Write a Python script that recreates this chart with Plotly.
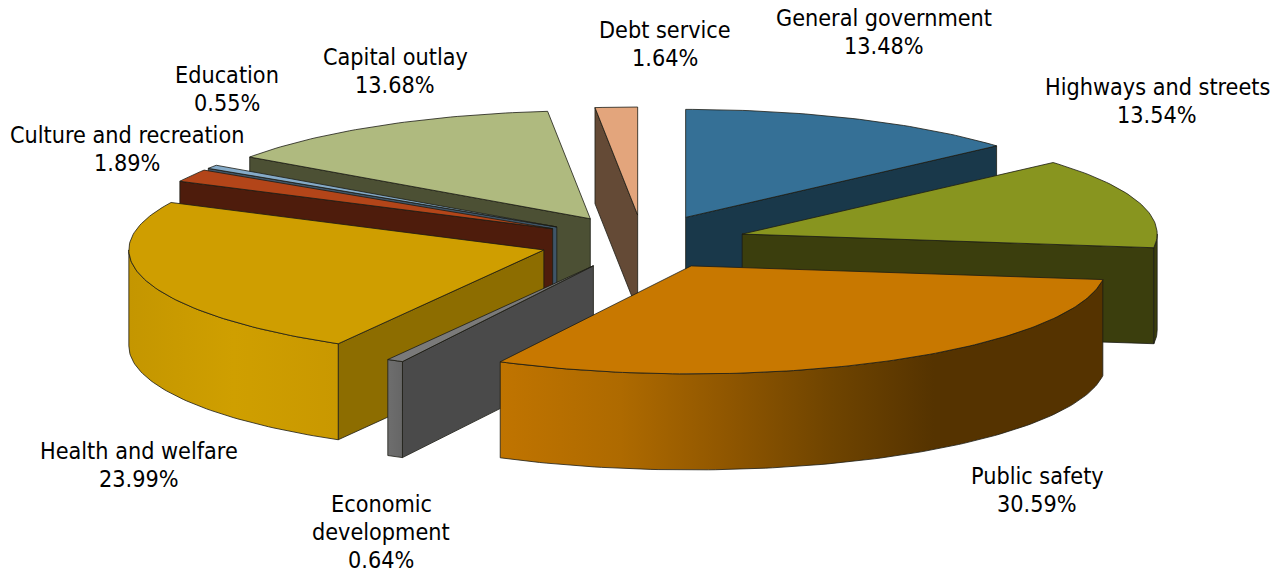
import math
import plotly.graph_objects as go

# Expenditure shares, clockwise from twelve o'clock
categories = ["General government", "Highways and streets", "Public safety",
              "Economic development", "Health and welfare", "Culture and recreation",
              "Education", "Capital outlay", "Debt service"]
shares = [13.48, 13.54, 30.59, 0.64, 23.99, 1.89, 0.55, 13.68, 1.64]

# Per-slice styling
top_colors = ["#357096", "#88951f", "#c87800", "#7a7a7a", "#cf9e00",
              "#b34519", "#85abc9", "#afba7f", "#e3a57c"]
side_colors = ["#19384a", "#3b3e0d", "#553300", "#4a4a4a", "#8d6d00",
               "#4e1c0c", "#3f5568", "#4c5034", "#644a36"]
outer_scales = {
    2: [[0, "#c07400"], [0.2, "#ae6a00"], [0.38, "#8f5600"], [0.55, "#6f4400"],
        [0.72, "#553300"], [1, "#553300"]],
    3: [[0, "#6e6e6e"], [1, "#666666"]],
    4: [[0, "#c49600"], [0.5, "#cf9f00"], [1, "#c99800"]],
}
label_centers = [(884, 31), (1157, 100), (1037, 489), (381, 531), (139, 464),
                 (127, 148), (227, 88), (395, 70), (665, 43)]

# Projection of the tilted, exploded disc
CX, CY = 643, 242
RX, RY = 415, 108
DEPTH = 96
EXPLODE = 0.25
EDGE = "#1c1c14"
LINE_STEP = 28

# Back-to-front painting order
paint_order = [0, 8, 7, 6, 5, 4, 3, 1, 2]


def project(theta, apex):
    r = math.radians(theta)
    return apex[0] + RX * math.sin(r), apex[1] - RY * math.cos(r)


def arc(a, b, apex):
    n = max(2, int(abs(b - a)) + 2)
    return [project(a + (b - a) * i / (n - 1), apex) for i in range(n)]


def polygon(points, color=None, scale=None):
    xs = [p[0] for p in points] + [points[0][0]]
    ys = [p[1] for p in points] + [points[0][1]]
    trace = dict(x=xs, y=ys, mode="lines", fill="toself",
                 line=dict(color=EDGE, width=0.8),
                 hoverinfo="skip", showlegend=False)
    if scale:
        trace["fillgradient"] = dict(type="horizontal", colorscale=scale)
    else:
        trace["fillcolor"] = color
    return go.Scatter(**trace)


def drop(points):
    return [(x, y + DEPTH) for x, y in points]


total = sum(shares)
bounds = []
running = 0.0
for s in shares:
    bounds.append((running, running + s / total * 360))
    running += s / total * 360

fig = go.Figure()
for i in paint_order:
    start, end = bounds[i]
    mid = math.radians((start + end) / 2)
    apex = (CX + EXPLODE * RX * math.sin(mid), CY - EXPLODE * RY * math.cos(mid))
    # Radial walls facing the viewer
    if math.sin(math.radians(start)) < 0:
        p = project(start, apex)
        fig.add_trace(polygon([apex, p, (p[0], p[1] + DEPTH), (apex[0], apex[1] + DEPTH)], side_colors[i]))
    if math.sin(math.radians(end)) > 0:
        p = project(end, apex)
        fig.add_trace(polygon([apex, p, (p[0], p[1] + DEPTH), (apex[0], apex[1] + DEPTH)], side_colors[i]))
    # Rim, front half of the disc only
    lo, hi = max(start, 90), min(end, 270)
    if hi > lo:
        rim = arc(lo, hi, apex)
        fig.add_trace(polygon(rim + drop(rim)[::-1], side_colors[i], outer_scales.get(i)))
    # Top surface
    fig.add_trace(polygon([apex] + arc(start, end, apex), top_colors[i]))

# One annotation per text line keeps the leading independent of the font size
for name, share, (lx, ly) in zip(categories, shares, label_centers):
    lines = name.replace("Economic ", "Economic\n").split("\n") + [f"{share:.2f}%"]
    for k, line in enumerate(lines):
        fig.add_annotation(x=lx, y=ly + (k - (len(lines) - 1) / 2) * LINE_STEP, text=line,
                           showarrow=False, xanchor="center", yanchor="middle",
                           font=dict(family="DejaVu Sans Condensed, DejaVu Sans", size=23.2, color="#000000"))

fig.update_layout(width=1281, height=575, autosize=False, margin=dict(l=0, r=0, t=0, b=0),
                  paper_bgcolor="white", plot_bgcolor="white",
                  xaxis=dict(range=[0, 1281], visible=False, fixedrange=True),
                  yaxis=dict(range=[575, 0], visible=False, fixedrange=True))
fig.write_html("out.html", config={"displayModeBar": False})
